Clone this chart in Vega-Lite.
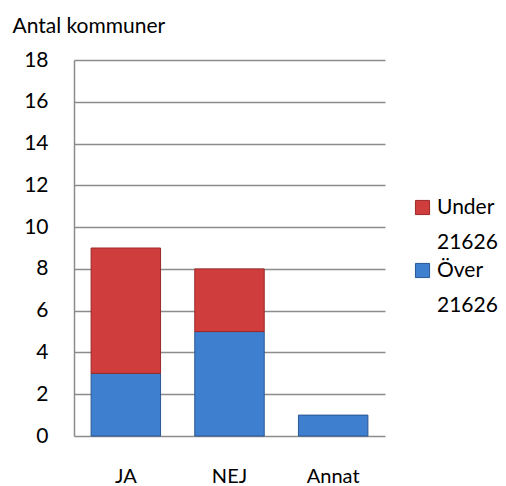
{
  "$schema": "https://vega.github.io/schema/vega-lite/v6.json",
  "autosize": "none",
  "width": 311,
  "height": 376,
  "padding": {"left": 74, "top": 60, "right": 121, "bottom": 50},
  "background": "white",
  "config": {
    "font": "Lato",
    "view": {"stroke": null},
    "style": {"guide-label": {"lineHeight": 35}}
  },
  "data": {
    "values": [
      {"svar": "JA", "serie": "Över 21626", "antal": 3},
      {"svar": "JA", "serie": "Under 21626", "antal": 6},
      {"svar": "NEJ", "serie": "Över 21626", "antal": 5},
      {"svar": "NEJ", "serie": "Under 21626", "antal": 3},
      {"svar": "Annat", "serie": "Över 21626", "antal": 1}
    ]
  },
  "mark": {"type": "bar", "strokeWidth": 1},
  "encoding": {
    "x": {
      "field": "svar",
      "type": "nominal",
      "sort": ["JA", "NEJ", "Annat"],
      "scale": {"paddingInner": 0.33, "paddingOuter": 0.165},
      "axis": {
        "title": null,
        "domain": false,
        "ticks": false,
        "labelAngle": 0,
        "labelFont": "Lato",
        "labelFontSize": 20,
        "labelColor": "#000000",
        "labelPadding": 30
      }
    },
    "y": {
      "field": "antal",
      "type": "quantitative",
      "stack": "zero",
      "scale": {"domain": [0, 18]},
      "axis": {
        "values": [0, 2, 4, 6, 8, 10, 12, 14, 16, 18],
        "title": "Antal kommuner",
        "titleAngle": 0,
        "titleAlign": "left",
        "titleBaseline": "alphabetic",
        "titleX": -62,
        "titleY": -28,
        "titleFont": "Lato",
        "titleFontSize": 21,
        "titleFontWeight": "normal",
        "titleColor": "#000000",
        "domainColor": "#8c8c8c",
        "domainWidth": 1.5,
        "ticks": false,
        "gridColor": "#8c8c8c",
        "gridWidth": 1.5,
        "labelFont": "Lato",
        "labelFontSize": 21,
        "labelColor": "#000000",
        "labelPadding": 26
      }
    },
    "color": {
      "field": "serie",
      "type": "nominal",
      "scale": {
        "domain": ["Under 21626", "Över 21626"],
        "range": ["#cf3d3d", "#3f7fd0"]
      },
      "legend": {
        "title": null,
        "orient": "none",
        "legendX": 338,
        "legendY": 137,
        "symbolType": "square",
        "symbolSize": 200,
        "symbolStrokeWidth": 1,
        "labelFont": "Lato",
        "labelFontSize": 21,
        "labelColor": "#000000",
        "labelExpr": "split(datum.label, ' ')",
        "labelLimit": 200,
        "rowPadding": 6
      }
    },
    "stroke": {
      "field": "serie",
      "type": "nominal",
      "scale": {
        "domain": ["Under 21626", "Över 21626"],
        "range": ["#9c2828", "#2a5692"]
      },
      "legend": null
    },
    "order": {"field": "serie", "sort": "descending"}
  }
}
